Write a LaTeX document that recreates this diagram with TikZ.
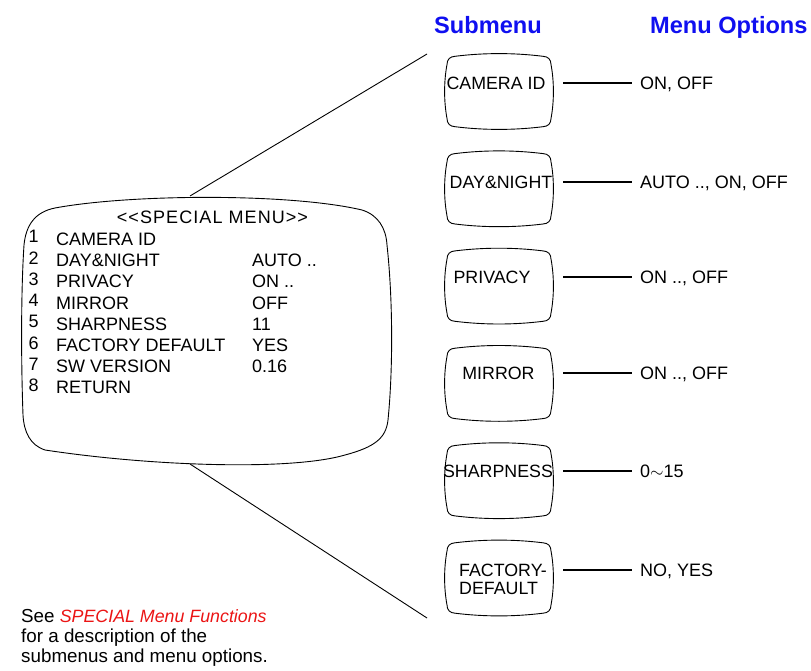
\documentclass[tikz,border=0pt]{standalone}
\usepackage{fontspec}
\setmainfont{Liberation Sans}
\usetikzlibrary{calc}
\definecolor{hblue}{RGB}{15,15,240}
\definecolor{fred}{RGB}{235,20,20}
\newcommand\tvoutline[1]{%
  \draw[outline, shift={(#1.center)}]
    (-52,-27) .. controls (-52,-32) and (-49,-35) .. (-44,-35.2)
    .. controls (-15,-38.8) and (15,-38.8) .. (44,-35.2)
    .. controls (49,-35) and (52,-32) .. (52,-27)
    .. controls (55.2,-10) and (55.2,10) .. (52,27)
    .. controls (52,32) and (49,35) .. (44,35.2)
    .. controls (15,38.8) and (-15,38.8) .. (-44,35.2)
    .. controls (-49,35) and (-52,32) .. (-52,27)
    .. controls (-55.2,10) and (-55.2,-10) .. (-52,-27) -- cycle;}
\begin{document}
\begin{tikzpicture}[x=1pt,y=-1pt,
  outline/.style={line width=0.9pt},
  conn/.style={line width=1.8pt},
  diag/.style={line width=0.9pt},
  txt/.style={inner sep=0pt, anchor=base west, font=\fontsize{18}{21}\selectfont},
  opt/.style={inner sep=0pt, anchor=west, text height=12.9pt, text depth=0pt, font=\fontsize{18}{21}\selectfont},
  btxt/.style={inner sep=0pt, anchor=center, text height=12.7pt, text depth=0pt, font=\fontsize{17.8}{21}\selectfont},
  tvbox/.style={inner sep=0pt, minimum width=110pt, minimum height=75pt},
  hdr/.style={inner sep=0pt, anchor=base west, font=\fontsize{23.6}{27}\selectfont\bfseries, text=hblue},
]
\useasboundingbox (0,0) rectangle (811,671);

% headers
\node[hdr] (hsub) at (434,33.3) {Submenu};
\node[hdr] (hopt) at (650,33.3) {Menu Options};

% main menu outline
\node[inner sep=0pt, minimum width=370pt, minimum height=270pt] (menu) at (207,331) {};
\draw[outline]
  (24,245) .. controls (26,225) and (35,212) .. (55,208)
  .. controls (130,194) and (290,193) .. (362,210)
  .. controls (378,215) and (386,228) .. (387,245)
  .. controls (393,300) and (393,370) .. (388,420)
  .. controls (386,438) and (375,447) .. (345,455)
  .. controls (290,471) and (150,466) .. (45,450)
  .. controls (30,445) and (24,432) .. (23,415)
  .. controls (21,360) and (21,290) .. (24,245) -- cycle;

\node[txt, anchor=base] (title) at (212.5,223)
  {\addfontfeature{LetterSpace=6}<\kern1pt<SPECIAL MENU>\kern1pt>};
\foreach \i/\lab/\val [count=\k from 0] in
  {1/CAMERA ID/, 2/DAY\&NIGHT/AUTO .., 3/PRIVACY/ON .., 4/MIRROR/OFF,
   5/SHARPNESS/11, 6/FACTORY DEFAULT/YES, 7/SW VERSION/0.16, 8/RETURN/}{
  \node[txt] (num\i) at (28.5,{245.5+21.2*\k-2.5}) {\i};
  \node[txt] (lab\i) at (56,{245.5+21.2*\k}) {\lab};
  \node[txt] (val\i) at (252,{245.5+21.2*\k}) {\val};
}

% submenu boxes
\node[tvbox] (b1) at (499,91.5) {};
\node[tvbox] (b2) at (499,188.8) {};
\node[tvbox] (b3) at (499,286.1) {};
\node[tvbox] (b4) at (499,383.4) {};
\node[tvbox] (b5) at (499,480.7) {};
\node[tvbox] (b6) at (499,578) {};
\foreach \b in {b1,b2,b3,b4,b5,b6}{\tvoutline{\b}}

\node[btxt] (t1) at (496,83.5) {CAMERA ID};
\node[btxt] (t2) at (501,182.5) {DAY\&NIGHT};
\node[btxt] (t3) at (492,277.5) {PRIVACY};
\node[btxt] (t4) at (498.5,373.5) {MIRROR};
\node[btxt] (t5) at (498,471.5) {SHARPNESS};
\node[inner sep=0pt, anchor=west, align=left, font=\fontsize{17.8}{18}\selectfont] (t6) at (459,579) {FACTORY-\\DEFAULT};

% options
\node[opt] (o1) at (640,83) {ON, OFF};
\node[opt] (o2) at (640,182) {AUTO .., ON, OFF};
\node[opt] (o3) at (640,277) {ON .., OFF};
\node[opt] (o4) at (640,373) {ON .., OFF};
\node[opt] (o5) at (640,471) {0$\sim$15};
\node[opt] (o6) at (640,570) {NO, YES};

\foreach \i in {1,...,6}{
  \draw[conn] ($(b\i.east |- o\i.west)+(9,0)$) -- ($(o\i.west)+(-8,0)$);
}

% connectors from the menu to the submenu column
\coordinate (mtop) at (190,196);
\coordinate (ctop) at (427,54);
\coordinate (mbot) at (190,464);
\coordinate (cbot) at (427,618);
\draw[diag] (mtop) -- (ctop);
\draw[diag] (mbot) -- (cbot);

% footer
\node[inner sep=0pt, anchor=north west, align=left, font=\fontsize{18.8}{19.6}\selectfont] (foot) at (21,609.5)
  {See \textcolor{fred}{\fontsize{17.8}{19.6}\selectfont\itshape SPECIAL Menu Functions}\\for a description of the\\submenus and menu options.};
\end{tikzpicture}
\end{document}
